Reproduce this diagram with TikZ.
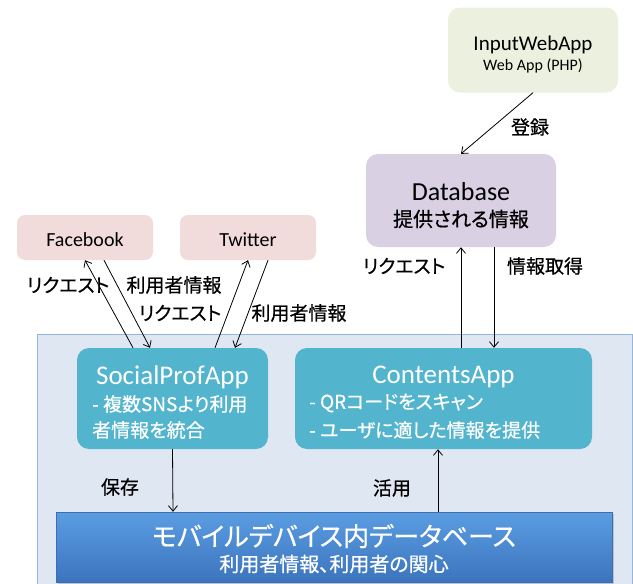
\documentclass[tikz,border=0pt]{standalone}
\usepackage{fontspec}
\setmainfont{Carlito}
\newfontfamily\jp[RawFeature=+palt, FakeBold=0.6]{Noto Sans CJK JP}
\usetikzlibrary{arrows.meta, shadows}
\definecolor{webgreen}{HTML}{EBF1DE}
\definecolor{dblilac}{HTML}{D9D1E3}
\definecolor{snspink}{HTML}{F2DCDB}
\definecolor{devblue}{HTML}{DFE8F2}
\definecolor{devedge}{HTML}{95B5DA}
\definecolor{apptea}{HTML}{52B4CD}
\definecolor{bartop}{HTML}{5B9DE2}
\definecolor{barbot}{HTML}{3B74BD}
\definecolor{baredge}{HTML}{3D6FB0}

\begin{document}
\begin{tikzpicture}[x=1pt, y=-1pt,
    box/.style={rounded corners=12pt, inner sep=0pt},
    link/.style={-{Straight Barb[length=5.5pt,width=9pt]}, line width=0.8pt},
    lbl/.style={font=\jp\fontsize{19}{22}\selectfont},
    app/.style={box, fill=apptea, minimum height=101pt},
    apptitle/.style={font=\fontsize{27}{30}\selectfont, text=white},
    apptext/.style={font=\jp\fontsize{19}{22}\selectfont, text=white, anchor=west, inner sep=0pt}]
    \useasboundingbox (0,0) rectangle (633,584);

    % frame of the device
    \draw[devedge, fill=devblue] (37,334) rectangle (632,590);

    % boxes
    \node[box, fill=webgreen, minimum width=170pt, minimum height=85pt] (web) at (533,50) {};
    \node[box, fill=dblilac, minimum width=190pt, minimum height=93pt] (db) at (461,200.5) {};
    \node[box, rounded corners=8pt, fill=snspink, minimum width=136pt, minimum height=45pt] (fb) at (85,237.5) {};
    \node[box, rounded corners=8pt, fill=snspink, minimum width=136pt, minimum height=45pt] (tw) at (248,237.5) {};
    \node[app, minimum width=191pt] (sp) at (172.5,398.5) {};
    \node[app, minimum width=297pt] (ca) at (443.5,398.5) {};
    \node[draw=baredge, top color=bartop, bottom color=barbot, minimum width=556pt, minimum height=70pt,
          drop shadow={opacity=0.35, shadow xshift=1.5pt, shadow yshift=-2pt}] (bar) at (334,547) {};

    % texts in the boxes
    \node[font=\fontsize{21}{24}\selectfont] at (533,45) {InputWebApp};
    \node[font=\fontsize{16}{18}\selectfont] at (533,66) {Web App (PHP)};
    \node[font=\fontsize{26}{28}\selectfont] at (461,192) {Database};
    \node[font=\jp\fontsize{20}{24}\selectfont] at (461,219) {提供される情報};
    \node[font=\fontsize{20}{24}\selectfont] at (85,240) {Facebook};
    \node[font=\fontsize{20}{24}\selectfont] at (248,240) {Twitter};
    \node[apptitle] at (172.5,377) {SocialProfApp};
    \node[apptitle] at (443.5,377) {ContentsApp};
    \foreach \x/\y/\t in {92/404/{- 複数SNSより利用}, 92/430/者情報を統合,
                          309/403/{- QRコードをスキャン}, 309/430/{- ユーザに適した情報を提供}}
        \node[apptext] at (\x,\y) {\t};
    \node[text=white, font=\jp\fontsize{26}{30}\selectfont] at (334,536) {モバイルデバイス内データベース};
    \node[text=white, font=\jp\fontsize{20}{24}\selectfont] at (334,564) {利用者情報、利用者の関心};

    % arrows
    \draw[link] (web.south) -- (db.north);
    \draw[link] ([xshift=17.5pt]ca.north) -- (db.south);
    \draw[link] ([xshift=33pt]db.south) -- ([xshift=50.5pt]ca.north);
    \draw[link] ([xshift=-39.5pt]sp.north) -- (fb.south);
    \draw[link] ([xshift=19pt]fb.south) -- ([xshift=-22.5pt]sp.north);
    \draw[link] ([xshift=42.5pt]sp.north) -- (tw.south);
    \draw[link] ([xshift=20pt]tw.south) -- ([xshift=62.5pt]sp.north);
    \draw[link] (sp.south) -- ([xshift=-161pt]bar.north);
    \draw[link] ([xshift=104pt]bar.north) -- ([xshift=-5.5pt]ca.south);

    % labels
    \node[lbl] at (530,127) {登録};
    \node[lbl] at (404,266) {リクエスト};
    \node[lbl] at (545,266) {情報取得};
    \node[lbl] at (68,285) {リクエスト};
    \node[lbl] at (174,285) {利用者情報};
    \node[lbl] at (180,313) {リクエスト};
    \node[lbl] at (299,313) {利用者情報};
    \node[lbl] at (120,487) {保存};
    \node[lbl] at (392,488) {活用};
\end{tikzpicture}
\end{document}
